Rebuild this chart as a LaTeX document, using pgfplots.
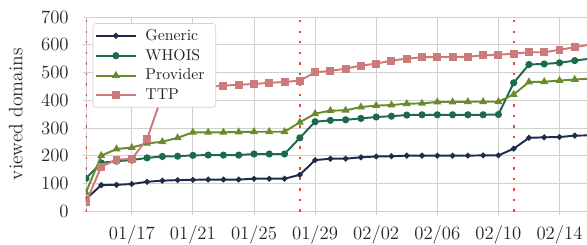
\documentclass[border=0pt]{standalone}
\usepackage{fontspec}
\usepackage{pgfplots}
\pgfplotsset{compat=1.18}
\definecolor{cgen}{HTML}{1F2A4D}
\definecolor{cwho}{HTML}{1B6A4B}
\definecolor{cpro}{HTML}{6B8A2B}
\definecolor{cttp}{HTML}{CF7A7A}
\definecolor{cgrid}{HTML}{D0D0D0}
\definecolor{cred}{HTML}{E8453C}
\begin{document}
\begin{tikzpicture}
\path[use as bounding box] (-57.3pt,-21.7pt) rectangle (334pt,141pt);
\begin{axis}[
  scale only axis,
  width=334pt, height=129.7pt,
  xmin=0, xmax=32.8, ymin=0, ymax=700,
  xtick={3,7,11,15,19,23,27,31},
  xticklabels={01/17,01/21,01/25,01/29,02/02,02/06,02/10,02/14},
  ytick={0,100,...,700},
  /pgf/number format/assume math mode=true,
  grid=major,
  major grid style={cgrid, line width=0.6pt},
  axis line style={cgrid, line width=0.6pt},
  tick style={cgrid, line width=0.6pt},
  tick align=outside,
  major tick length=2pt,
  xtick pos=bottom, ytick pos=left,
  clip marker paths=true,
  ticklabel style={font=\fontsize{12.5}{14}\selectfont, text=black!85},
  xticklabel style={yshift=-4pt},
  yticklabel style={xshift=-6pt},
  ylabel={viewed domains},
  ylabel style={at={(axis description cs:-0.1401,0.5)}, anchor=center, font=\fontsize{13}{15}\selectfont, text=black!85},
  legend style={at={(0.0135,0.968)}, anchor=north west, draw=cgrid, rounded corners=2pt, fill=white, row sep=0pt, inner sep=1.5pt,
    nodes={font=\fontsize{10.5}{12}\selectfont, text=black!85, inner xsep=6pt, inner ysep=2.2pt}},
  legend cell align=left,
  legend image code/.code={\draw[mark repeat=2,mark phase=2] plot coordinates {(0cm,0cm)(0.46cm,0cm)(0.92cm,0cm)};},
  every axis plot/.append style={line width=1.3pt},
]
\addplot[cred, line width=1.4pt, dash pattern=on 1.4pt off 5.6pt, forget plot] coordinates {(0,0) (0,700)};
\addplot[cred, line width=1.4pt, dash pattern=on 1.4pt off 5.6pt, forget plot] coordinates {(14,0) (14,700)};
\addplot[cred, line width=1.4pt, dash pattern=on 1.4pt off 5.6pt, forget plot] coordinates {(28,0) (28,700)};
\addplot[cgen, mark=*, mark size=1.2pt] coordinates {
(0,45) (1,95) (2,96) (3,99) (4,107) (5,111) (6,113) (7,114) (8,115) (9,115) (10,115) (11,118) (12,118) (13,118) (14,132) (15,185) (16,190) (17,190) (18,195) (19,198) (20,199) (21,201) (22,201) (23,201) (24,201) (25,201) (26,202) (27,202) (28,226) (29,265) (30,267) (31,268) (32,273) (33,274)};
\addlegendentry{Generic}
\addplot[cwho, mark=*, mark size=1.7pt] coordinates {
(0,119) (1,175) (2,181) (3,185) (4,193) (5,198) (6,199) (7,202) (8,203) (9,203) (10,203) (11,207) (12,207) (13,207) (14,265) (15,323) (16,328) (17,330) (18,335) (19,340) (20,343) (21,347) (22,348) (23,348) (24,348) (25,348) (26,348) (27,349) (28,463) (29,529) (30,531) (31,535) (32,543) (33,550)};
\addlegendentry{WHOIS}
\addplot[cpro, mark=triangle*, mark size=1.8pt] coordinates {
(0,68) (1,201) (2,225) (3,230) (4,245) (5,251) (6,265) (7,285) (8,285) (9,285) (10,286) (11,287) (12,287) (13,287) (14,321) (15,352) (16,363) (17,364) (18,376) (19,381) (20,383) (21,388) (22,389) (23,394) (24,394) (25,395) (26,395) (27,395) (28,421) (29,466) (30,467) (31,471) (32,475) (33,478)};
\addlegendentry{Provider}
\addplot[cttp, mark=square*, mark size=2pt] coordinates {
(0,33) (1,161) (2,187) (3,189) (4,261) (5,420) (6,440) (7,447) (8,449) (9,453) (10,456) (11,459) (12,463) (13,466) (14,471) (15,501) (16,506) (17,514) (18,525) (19,532) (20,543) (21,550) (22,555) (23,556) (24,556) (25,557) (26,562) (27,564) (28,568) (29,573) (30,573) (31,582) (32,591) (33,601)};
\addlegendentry{TTP}
\end{axis}
\end{tikzpicture}
\end{document}
